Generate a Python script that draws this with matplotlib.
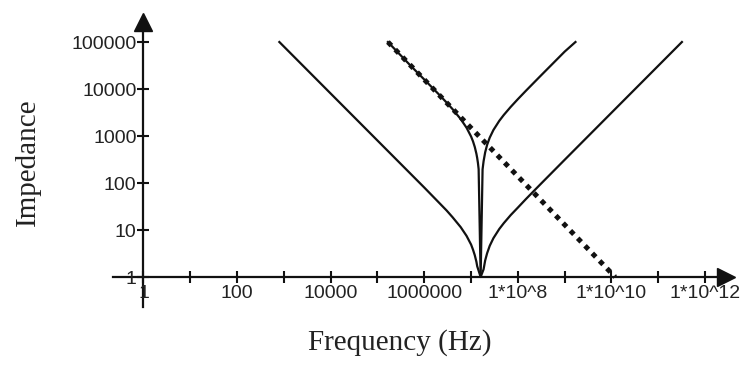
import matplotlib
matplotlib.use("Agg")
import matplotlib.pyplot as plt

# ---- data ----
# series LC curve (low impedance at resonance) - V shape
freq_v = [8e2, 1e4, 1e5, 1e6, 2e6, 3e6, 4e6, 6e6, 8e6, 1e7, 1.1e7, 1.2e7, 1.3e7,
          1.35e7, 1.6e7, 1.85e7, 2e7, 2.2e7, 2.5e7, 3e7, 4e7, 5e7, 7e7, 1e8,
          1.5e8, 3e8, 1e9, 1e10, 1e11, 3.2e11]
z_v = [1e5, 8000, 800, 80, 39.4, 26, 18.8, 11.5, 7.5, 4.9, 3.8, 2.9, 2.1,
       1.7, 1, 1.46, 2.25, 3.2, 4.6, 6.7, 10.5, 14, 20.7, 30,
       46, 93, 312, 3125, 31250, 1e5]

# second LC curve (higher characteristic impedance) with sharp notch
freq_n = [1.67e5, 5e5, 1e6, 2e6, 3e6, 4e6, 6e6, 8e6, 1e7, 1.1e7, 1.2e7, 1.3e7,
          1.35e7, 1.4e7, 1.45e7, 1.6e7, 1.76e7, 1.85e7, 2e7, 2.2e7, 2.5e7, 3e7,
          4e7, 5e7, 7e7, 1e8, 1.5e8, 3e8, 5e8, 1e9, 1.7e9]
z_n = [1e5, 32000, 15900, 7875, 5150, 3750, 2290, 1500, 975, 767, 583, 418,
       341, 268, 197, 1, 195, 291, 450, 648, 922, 1342,
       2100, 2805, 4146, 6090, 9270, 18700, 31200, 62500, 1e5]

# capacitor asymptote (dotted)
freq_c = [1.67e5, 1.2e10]
z_c = [1e5, 1]

x_ticks = [1, 10, 100, 1e3, 1e4, 1e5, 1e6, 1e7, 1e8, 1e9, 1e10, 1e11, 1e12]
x_labels = ["1", "", "100", "", "10000", "", "1000000", "", "1*10^8", "",
            "1*10^10", "", "1*10^12"]
y_ticks = [1, 10, 100, 1000, 10000, 100000]
y_labels = ["1", "10", "100", "1000", "10000", "100000"]

fig = plt.figure(figsize=(7.45, 3.67), dpi=100)
ax = fig.add_axes([0.15168, 0.16349, 0.82282, 0.77657])
ax.set_xscale("log")
ax.set_yscale("log")
ax.set_xlim(0.2230, 2.80e12)
ax.set_ylim(0.230, 2.665e5)

lc = "#111111"
ax.plot(freq_v, z_v, color=lc, lw=1.6, solid_joinstyle="round")
ax.plot(freq_n, z_n, color=lc, lw=1.6, solid_joinstyle="miter")
ax.plot(freq_c, z_c, color=lc, lw=3.6, linestyle=(0, (1, 1.1)))

for s in ["top", "right"]:
    ax.spines[s].set_visible(False)
ax.spines["left"].set_position(("data", 1))
ax.spines["bottom"].set_position(("data", 1))
for s in ["left", "bottom"]:
    ax.spines[s].set_linewidth(1.6)
    ax.spines[s].set_color(lc)
    ax.spines[s].set_zorder(1)

ax.plot(1, 1, ">", color=lc, ms=13, transform=ax.get_yaxis_transform(), clip_on=False)
ax.plot(1, 1, "^", color=lc, ms=13, transform=ax.get_xaxis_transform(), clip_on=False)

ax.set_xticks(x_ticks)
ax.set_xticklabels(x_labels)
ax.set_yticks(y_ticks)
ax.set_yticklabels(y_labels)
ax.minorticks_off()
ax.tick_params(axis="x", direction="inout", length=9, width=1.5, pad=1, color=lc,
               labelsize=14, labelcolor="#222222")
ax.tick_params(axis="y", direction="inout", length=8, width=1.5, pad=1, color=lc,
               labelsize=14, labelcolor="#222222")
for t in ax.get_xticklabels() + ax.get_yticklabels():
    t.set_fontfamily("Liberation Sans")

fig.text(0.537, 0.0654, "Frequency (Hz)", family="Liberation Serif", fontsize=21,
         ha="center", va="center", color="#222222")
fig.text(0.0376, 0.5586, "Impedance", family="Liberation Serif", fontsize=21,
         rotation=90, ha="center", va="center", color="#222222")

fig.savefig("out.png", dpi=100)
